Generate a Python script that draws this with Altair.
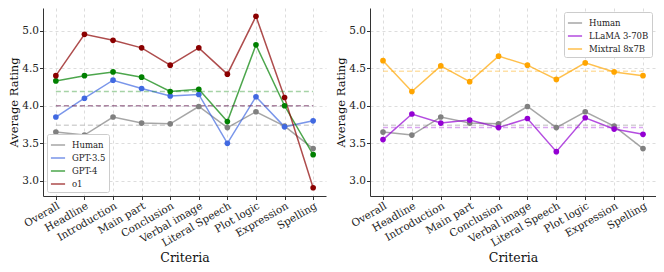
import altair as alt
import pandas as pd

criteria = ["Overall", "Headline", "Introduction", "Main part", "Conclusion",
            "Verbal image", "Literal Speech", "Plot logic", "Expression", "Spelling"]

human = [3.65, 3.61, 3.85, 3.77, 3.76, 3.99, 3.71, 3.92, 3.73, 3.43]
gpt35 = [3.85, 4.10, 4.34, 4.23, 4.13, 4.15, 3.50, 4.12, 3.72, 3.80]
gpt4 = [4.33, 4.40, 4.45, 4.38, 4.19, 4.22, 3.79, 4.81, 4.00, 3.35]
o1 = [4.40, 4.95, 4.87, 4.77, 4.54, 4.77, 4.42, 5.19, 4.11, 2.91]
llama = [3.55, 3.89, 3.77, 3.81, 3.71, 3.83, 3.39, 3.84, 3.69, 3.62]
mixtral = [4.60, 4.19, 4.53, 4.32, 4.66, 4.54, 4.35, 4.57, 4.45, 4.40]

left_models = ["Human", "GPT-3.5", "GPT-4", "o1"]
left_series = [human, gpt35, gpt4, o1]
left_colors = ["#808080", "#4169E1", "#008000", "#8B0000"]
left_means = [3.74, 4.00, 4.19, 4.00]

right_models = ["Human", "LLaMA 3-70B", "Mixtral 8x7B"]
right_series = [human, llama, mixtral]
right_colors = ["#808080", "#9400D3", "#FFA500"]
right_means = [3.74, 3.71, 4.46]

y_ticks = [3.0, 3.5, 4.0, 4.5, 5.0]
FONT = "DejaVu Serif"


def panel(models, series, colors, means, width, orient):
    df = pd.DataFrame([{"Criteria": c, "Model": m, "Rating": v}
                       for m, s in zip(models, series)
                       for c, v in zip(criteria, s)])
    mdf = pd.DataFrame([{"Criteria": c, "Model": m, "Rating": mv}
                        for m, mv in zip(models, means)
                        for c in (criteria[0], criteria[-1])])
    x = alt.X("Criteria:N", sort=criteria, scale=alt.Scale(padding=0.45),
              axis=alt.Axis(grid=True), title="Criteria")
    y = alt.Y("Rating:Q", scale=alt.Scale(domain=[2.8, 5.3], nice=False, zero=False),
              axis=alt.Axis(values=y_ticks, format=".1f", grid=True),
              title="Average Rating")
    cs = alt.Scale(domain=models, range=colors)
    lines = alt.Chart(df).mark_line(strokeWidth=1.5, opacity=0.7).encode(
        x=x, y=y,
        color=alt.Color("Model:N", scale=cs, sort=models,
                        legend=alt.Legend(title=None, orient=orient, symbolType="stroke")))
    mean_lines = alt.Chart(mdf).mark_line(strokeWidth=1.5, strokeDash=[5, 3], opacity=0.35).encode(
        x=x, y=y, color=alt.Color("Model:N", scale=cs, legend=None), detail="Model:N")
    points = alt.Chart(df).mark_circle(size=32, opacity=1).encode(
        x=x, y=y, color=alt.Color("Model:N", scale=cs, legend=None))
    return alt.layer(lines, mean_lines, points).properties(width=width, height=188)


left = panel(left_models, left_series, left_colors, left_means, 283, "bottom-left")
right = panel(right_models, right_series, right_colors, right_means, 286, "top-right")

chart = alt.hconcat(left, right, spacing=9).resolve_scale(
    color="independent").resolve_legend(color="independent").properties(
    padding={"left": 0, "top": 0, "right": 0, "bottom": 0}
).configure(font=FONT).configure_axis(
    labelFont=FONT, labelFontSize=10.5, labelColor="#222",
    titleFont=FONT, titleFontSize=12, titleFontWeight="normal", titleColor="#111",
    domainColor="#333", tickColor="#333", tickSize=3.5,
    gridColor="#dddddd", gridDash=[3, 3],
    labelPadding=1, titlePadding=2
).configure_axisY(
    titleFontSize=11.5
).configure_axisX(
    labelAngle=330, labelAlign="right", labelBaseline="top", titlePadding=3,
    titleFontSize=12.5
).configure_legend(
    labelFont=FONT, labelFontSize=8.5, labelColor="#222",
    fillColor="white", strokeColor="#cccccc", padding=3, cornerRadius=2,
    symbolSize=200, symbolStrokeWidth=1.5, rowPadding=-3, offset=4, labelOffset=6
).configure_view(stroke=None)

chart.save("out.html", embed_options={"renderer": "svg", "actions": False})
